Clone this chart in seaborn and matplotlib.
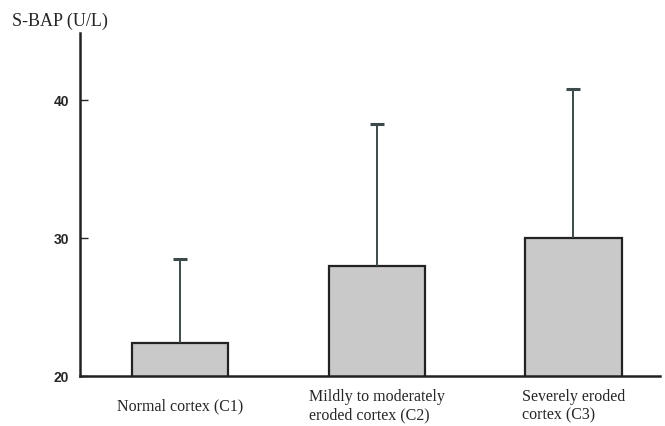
import numpy as np
import matplotlib
matplotlib.use("Agg")
import matplotlib.pyplot as plt
import seaborn as sns

# data
categories = ["Normal cortex (C1)",
              "Mildly to moderately\neroded cortex (C2)",
              "Severely eroded\ncortex (C3)"]
means = [22.4, 28.0, 30.0]
upper_sd = [6.1, 10.3, 10.8]
yticks = [20, 30, 40]

sns.set_style("white")
plt.rcParams["font.family"] = ["Liberation Serif", "DejaVu Serif"]

fig = plt.figure(figsize=(6.65, 4.26), dpi=100)
ax = fig.add_axes([80 / 665, 50 / 426, 580 / 665, 343 / 426])

sns.barplot(x=categories, y=means, color="#c9c9c9", edgecolor="#222222",
            linewidth=1.6, width=0.49, saturation=1, ax=ax)
eb = ax.errorbar(np.arange(len(means)), means, yerr=[[0] * len(means), upper_sd],
                 fmt="none", ecolor="#3b4a4a", elinewidth=1.4, capsize=5, capthick=2.2)
# only the upper cap is drawn in the original
eb[1][0].set_visible(False)

ax.set_ylim(20, 44.9)
ax.set_xlim(-0.51, 2.44)
ax.set_yticks(yticks)
ax.set_yticklabels([str(t) for t in yticks], fontfamily="Liberation Sans",
                   fontweight="bold", fontsize=10)
ax.tick_params(axis="y", direction="in", length=6, width=1, left=True, pad=8)
ax.tick_params(axis="x", length=0, pad=22)
for lab in ax.get_xticklabels():
    lab.set_fontsize(11.5)
    lab.set_multialignment("left")
    lab.set_verticalalignment("center")

sns.despine(ax=ax)
for side in ["left", "bottom"]:
    ax.spines[side].set_linewidth(1.8)
    ax.spines[side].set_color("#222222")

fig.text(12 / 665, 1 - 21 / 426, "S-BAP (U/L)", fontsize=13, va="center", ha="left")

plt.savefig("out.png", dpi=100)
